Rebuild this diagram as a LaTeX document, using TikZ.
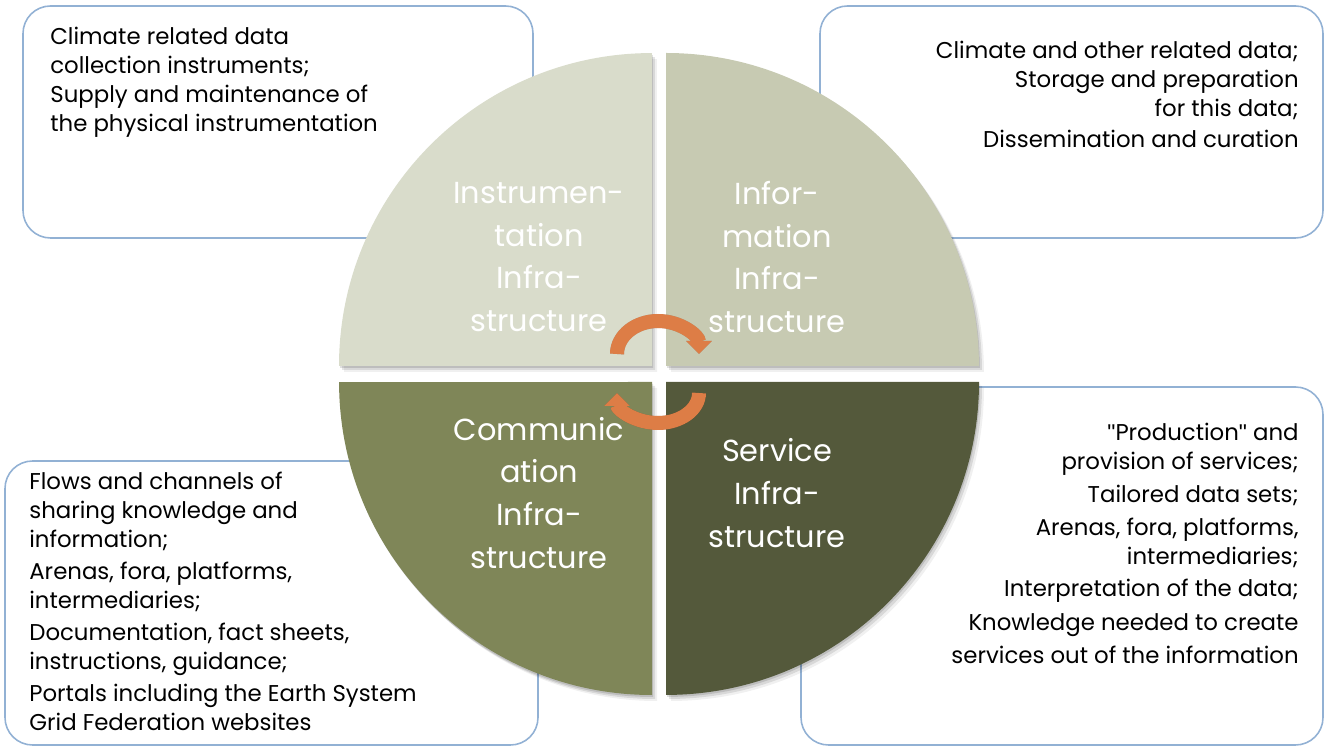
\documentclass[tikz,border=0pt]{standalone}
\usepackage{fontspec}
\setmainfont{Poppins}
\newfontfamily\quotefont{Liberation Sans}
\usetikzlibrary{arrows.meta}
\definecolor{qtl}{RGB}{217,220,203}
\definecolor{qtr}{RGB}{199,202,178}
\definecolor{qbl}{RGB}{127,134,88}
\definecolor{qbr}{RGB}{84,89,59}
\definecolor{boxc}{RGB}{146,177,212}
\definecolor{arrc}{RGB}{221,125,70}
\newcommand{\bodyfont}{\fontsize{13pt}{16.44pt}\selectfont}
\newcommand{\labfont}{\fontsize{17.3pt}{24.4pt}\selectfont}
\newcommand{\sq}{{\quotefont\char34}}
\newcommand{\pathTL}{(652,381) -- (339,381) arc[start angle=180,end angle=90,radius=6.26cm] -- cycle}
\newcommand{\pathTR}{(666,381) -- (666,694) arc[start angle=90,end angle=0,radius=6.26cm] -- cycle}
\newcommand{\pathBL}{(652,365) -- (652,52) arc[start angle=270,end angle=180,radius=6.26cm] -- cycle}
\newcommand{\pathBR}{(666,365) -- (979,365) arc[start angle=0,end angle=-90,radius=6.26cm] -- cycle}
\begin{document}
\begin{tikzpicture}[x=0.02cm,y=0.02cm,
  infobox/.style={draw=boxc, line width=0.9pt, rounded corners=0.55cm},
  shadowA/.style={fill=black, opacity=0.12, shift={(1,-2)}},
  shadowB/.style={fill=black, opacity=0.10, shift={(3,-4)}},
  shadowC/.style={fill=black, opacity=0.06, shift={(5,-6)}},
  qlabel/.style={text=white, font=\labfont, align=center, inner sep=0pt},
  btext/.style={inner sep=0pt, font=\bodyfont},
  cycarrow/.style={draw=arrc, line width=0.28cm, -{Triangle[width=0.5cm, length=0.26cm]}},
  cycshadow/.style={draw=black, opacity=0.22, line width=0.28cm, -{Triangle[width=0.5cm, length=0.26cm]}}
]
\useasboundingbox (0,0) rectangle (1325,747);

% description boxes
\draw[infobox] (23,741) rectangle (533,509);
\draw[infobox] (820,741) rectangle (1323,509);
\draw[infobox] (5,286) rectangle (538,2);
\draw[infobox] (801,360) rectangle (1323,2);

% quadrant shadows
\foreach \s in {shadowA,shadowB,shadowC}{
  \fill[\s] \pathTL; \fill[\s] \pathTR; \fill[\s] \pathBL; \fill[\s] \pathBR;
}
% quadrants
\fill[qtl] \pathTL;
\fill[qtr] \pathTR;
\fill[qbl] \pathBL;
\fill[qbr] \pathBR;

% quadrant labels
\node[qlabel] (lTL) at (539,490) {Instrumen-\\tation\\Infra-\\structure};
\node[qlabel] (lTR) at (777,490) {Infor-\\mation\\Infra-\\structure};
\node[qlabel] (lBL) at (539,254) {Communic\\ation\\Infra-\\structure};
\node[qlabel] (lBR) at (777,254) {Service\\Infra-\\structure};

% cycle arrows
\coordinate (topA) at (617,393);
\coordinate (botA) at (699,354);
\draw[cycshadow, shift={(2,-3)}] (topA) arc[start angle=180, end angle=0, x radius=0.82cm, y radius=0.66cm];
\draw[cycshadow, shift={(2,-3)}] (botA) arc[start angle=0, end angle=-180, x radius=0.82cm, y radius=0.6cm];
\draw[cycarrow] (topA) arc[start angle=180, end angle=0, x radius=0.82cm, y radius=0.66cm];
\draw[cycarrow] (botA) arc[start angle=0, end angle=-180, x radius=0.82cm, y radius=0.6cm];

% description texts
\node[btext, anchor=base west] (tTL) at (50,702.5) {\parbox[t]{12cm}{\raggedright
Climate related data\\collection instruments;\\Supply and maintenance of\\the physical instrumentation}};
\node[btext, anchor=base east] (tTR) at (1299,688.5) {\parbox[t]{12cm}{\raggedleft
Climate and other related data;\\Storage and preparation\\for this data;\\[1.1pt]Dissemination and curation}};
\node[btext, anchor=base west] (tBL) at (29,257) {\parbox[t]{12cm}{\raggedright
Flows and channels of\\sharing knowledge and\\information;\\[1.7pt]Arenas, fora, platforms,\\intermediaries;\\[2pt]Documentation, fact sheets,\\instructions, guidance;\\[1.6pt]Portals including the Earth System\\Grid Federation websites}};
\node[btext, anchor=base east] (tBR) at (1299,306) {\parbox[t]{12cm}{\raggedleft
\sq Production\sq{} and\\provision of services;\\[2pt]Tailored data sets;\\[2.6pt]Arenas, fora, platforms,\\intermediaries;\\[1.6pt]Interpretation of the data;\\[3pt]Knowledge needed to create\\[2.2pt]services out of the information}};
\end{tikzpicture}
\end{document}
